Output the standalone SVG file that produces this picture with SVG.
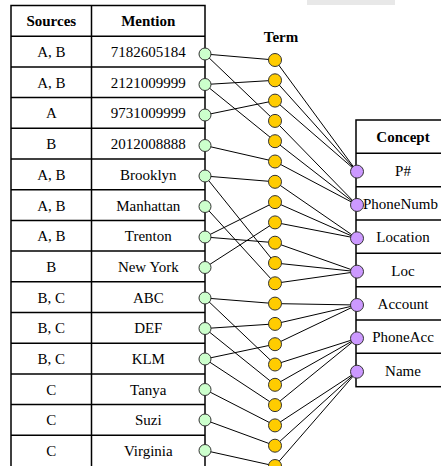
<svg xmlns="http://www.w3.org/2000/svg" width="441" height="466" viewBox="0 0 441 466">
  <style>
    .grid { fill: none; stroke: #000; stroke-width: 1.5; }
    .rule { stroke: #000; stroke-width: 1.5; }
    .txt { font-family: "Liberation Serif", "Times New Roman", serif; font-size: 15px; fill: #000; text-anchor: middle; }
    .hdr { font-weight: bold; }
    .edge { stroke: #000; stroke-width: 1; fill: none; }
    .mention { fill: #ccffcc; stroke: #333; stroke-width: 1; }
    .term { fill: #ffcc00; stroke: #333; stroke-width: 1; }
    .concept { fill: #cc99ff; stroke: #333; stroke-width: 1; }
  </style>

  <!-- light band at the top edge -->
  <rect x="307" y="0" width="88" height="5" fill="#e8e8e8"/>

  <!-- mention table -->
  <g id="mention-table">
    <rect class="grid" x="11" y="5.5" width="194" height="465"/>
    <line class="rule" x1="91.5" y1="5.5" x2="91.5" y2="470"/>
    <line class="rule" x1="11" y1="36.2" x2="205" y2="36.2"/>
    <line class="rule" x1="11" y1="66.9" x2="205" y2="66.9"/>
    <line class="rule" x1="11" y1="97.6" x2="205" y2="97.6"/>
    <line class="rule" x1="11" y1="128.3" x2="205" y2="128.3"/>
    <line class="rule" x1="11" y1="159" x2="205" y2="159"/>
    <line class="rule" x1="11" y1="189.7" x2="205" y2="189.7"/>
    <line class="rule" x1="11" y1="220.4" x2="205" y2="220.4"/>
    <line class="rule" x1="11" y1="251.1" x2="205" y2="251.1"/>
    <line class="rule" x1="11" y1="281.8" x2="205" y2="281.8"/>
    <line class="rule" x1="11" y1="312.5" x2="205" y2="312.5"/>
    <line class="rule" x1="11" y1="343.2" x2="205" y2="343.2"/>
    <line class="rule" x1="11" y1="373.9" x2="205" y2="373.9"/>
    <line class="rule" x1="11" y1="404.6" x2="205" y2="404.6"/>
    <line class="rule" x1="11" y1="435.3" x2="205" y2="435.3"/>
    <text class="txt hdr" x="51.3" y="26">Sources</text>
    <text class="txt hdr" x="148.3" y="26">Mention</text>
    <text class="txt" x="51.3" y="57">A, B</text>
    <text class="txt" x="51.3" y="87.7">A, B</text>
    <text class="txt" x="51.3" y="118.4">A</text>
    <text class="txt" x="51.3" y="149.1">B</text>
    <text class="txt" x="51.3" y="179.8">A, B</text>
    <text class="txt" x="51.3" y="210.5">A, B</text>
    <text class="txt" x="51.3" y="241.2">A, B</text>
    <text class="txt" x="51.3" y="271.9">B</text>
    <text class="txt" x="51.3" y="302.6">B, C</text>
    <text class="txt" x="51.3" y="333.3">B, C</text>
    <text class="txt" x="51.3" y="364">B, C</text>
    <text class="txt" x="51.3" y="394.7">C</text>
    <text class="txt" x="51.3" y="425.4">C</text>
    <text class="txt" x="51.3" y="456.1">C</text>
    <text class="txt" x="148.3" y="57">7182605184</text>
    <text class="txt" x="148.3" y="87.7">2121009999</text>
    <text class="txt" x="148.3" y="118.4">9731009999</text>
    <text class="txt" x="148.3" y="149.1">2012008888</text>
    <text class="txt" x="148.3" y="179.8">Brooklyn</text>
    <text class="txt" x="148.3" y="210.5">Manhattan</text>
    <text class="txt" x="148.3" y="241.2">Trenton</text>
    <text class="txt" x="148.3" y="271.9">New York</text>
    <text class="txt" x="148.3" y="302.6">ABC</text>
    <text class="txt" x="148.3" y="333.3">DEF</text>
    <text class="txt" x="148.3" y="364">KLM</text>
    <text class="txt" x="148.3" y="394.7">Tanya</text>
    <text class="txt" x="148.3" y="425.4">Suzi</text>
    <text class="txt" x="148.3" y="456.1">Virginia</text>
  </g>

  <!-- concept table -->
  <g id="concept-table">
    <rect class="grid" x="356" y="120" width="100" height="266.7"/>
    <line class="rule" x1="356" y1="153.3" x2="441" y2="153.3"/>
    <line class="rule" x1="356" y1="186.7" x2="441" y2="186.7"/>
    <line class="rule" x1="356" y1="220" x2="441" y2="220"/>
    <line class="rule" x1="356" y1="253.3" x2="441" y2="253.3"/>
    <line class="rule" x1="356" y1="286.7" x2="441" y2="286.7"/>
    <line class="rule" x1="356" y1="320" x2="441" y2="320"/>
    <line class="rule" x1="356" y1="353.3" x2="441" y2="353.3"/>
    <text class="txt hdr" x="403" y="142">Concept</text>
    <text class="txt" x="403" y="175.5">P#</text>
    <text class="txt" x="363" y="208.8" style="text-anchor:start">PhoneNumb</text>
    <text class="txt" x="403" y="242.2">Location</text>
    <text class="txt" x="403" y="275.5">Loc</text>
    <text class="txt" x="403" y="308.8">Account</text>
    <text class="txt" x="403" y="342.2">PhoneAcc</text>
    <text class="txt" x="403" y="375.5">Name</text>
  </g>

  <text id="term-title" class="txt hdr" x="281" y="42">Term</text>

  <!-- connectors: mention to term, term to concept -->
  <g id="connectors" class="edge">
    <line x1="205" y1="54" x2="275" y2="60"/>
    <line x1="205" y1="54" x2="275" y2="120.9"/>
    <line x1="205" y1="84.5" x2="275" y2="80.3"/>
    <line x1="205" y1="84.5" x2="275" y2="141.2"/>
    <line x1="205" y1="115" x2="275" y2="100.6"/>
    <line x1="205" y1="145.5" x2="275" y2="161.5"/>
    <line x1="205" y1="176" x2="275" y2="181.8"/>
    <line x1="205" y1="176" x2="275" y2="263"/>
    <line x1="205" y1="206.5" x2="275" y2="283.3"/>
    <line x1="205" y1="237" x2="275" y2="202.1"/>
    <line x1="205" y1="237" x2="275" y2="242.7"/>
    <line x1="205" y1="267.5" x2="275" y2="222.4"/>
    <line x1="205" y1="298" x2="275" y2="303.6"/>
    <line x1="205" y1="298" x2="275" y2="364.5"/>
    <line x1="205" y1="328.5" x2="275" y2="323.9"/>
    <line x1="205" y1="328.5" x2="275" y2="384.8"/>
    <line x1="205" y1="359" x2="275" y2="344.2"/>
    <line x1="205" y1="359" x2="275" y2="405.1"/>
    <line x1="205" y1="389.5" x2="275" y2="425.4"/>
    <line x1="205" y1="420" x2="275" y2="445.7"/>
    <line x1="205" y1="450.5" x2="275" y2="466"/>

    <line x1="275" y1="60" x2="357" y2="171.6"/>
    <line x1="275" y1="80.3" x2="357" y2="171.6"/>
    <line x1="275" y1="100.6" x2="357" y2="171.6"/>
    <line x1="275" y1="120.9" x2="357" y2="204.95"/>
    <line x1="275" y1="141.2" x2="357" y2="204.95"/>
    <line x1="275" y1="161.5" x2="357" y2="204.95"/>
    <line x1="275" y1="181.8" x2="357" y2="238.3"/>
    <line x1="275" y1="202.1" x2="357" y2="238.3"/>
    <line x1="275" y1="222.4" x2="357" y2="238.3"/>
    <line x1="275" y1="242.7" x2="357" y2="271.65"/>
    <line x1="275" y1="263" x2="357" y2="271.65"/>
    <line x1="275" y1="283.3" x2="357" y2="271.65"/>
    <line x1="275" y1="303.6" x2="357" y2="305"/>
    <line x1="275" y1="323.9" x2="357" y2="305"/>
    <line x1="275" y1="344.2" x2="357" y2="305"/>
    <line x1="275" y1="364.5" x2="357" y2="338.35"/>
    <line x1="275" y1="384.8" x2="357" y2="338.35"/>
    <line x1="275" y1="405.1" x2="357" y2="338.35"/>
    <line x1="275" y1="425.4" x2="357" y2="371.7"/>
    <line x1="275" y1="445.7" x2="357" y2="371.7"/>
    <line x1="275" y1="466" x2="357" y2="371.7"/>
  </g>

  <!-- mention nodes -->
  <g id="mentions">
    <g id="m1"><circle class="mention" cx="205" cy="54" r="6"/></g>
    <g id="m2"><circle class="mention" cx="205" cy="84.5" r="6"/></g>
    <g id="m3"><circle class="mention" cx="205" cy="115" r="6"/></g>
    <g id="m4"><circle class="mention" cx="205" cy="145.5" r="6"/></g>
    <g id="m5"><circle class="mention" cx="205" cy="176" r="6"/></g>
    <g id="m6"><circle class="mention" cx="205" cy="206.5" r="6"/></g>
    <g id="m7"><circle class="mention" cx="205" cy="237" r="6"/></g>
    <g id="m8"><circle class="mention" cx="205" cy="267.5" r="6"/></g>
    <g id="m9"><circle class="mention" cx="205" cy="298" r="6"/></g>
    <g id="m10"><circle class="mention" cx="205" cy="328.5" r="6"/></g>
    <g id="m11"><circle class="mention" cx="205" cy="359" r="6"/></g>
    <g id="m12"><circle class="mention" cx="205" cy="389.5" r="6"/></g>
    <g id="m13"><circle class="mention" cx="205" cy="420" r="6"/></g>
    <g id="m14"><circle class="mention" cx="205" cy="450.5" r="6"/></g>
  </g>

  <!-- term nodes -->
  <g id="terms">
    <g id="t0"><circle class="term" cx="275" cy="60" r="6.5"/></g>
    <g id="t1"><circle class="term" cx="275" cy="80.3" r="6.5"/></g>
    <g id="t2"><circle class="term" cx="275" cy="100.6" r="6.5"/></g>
    <g id="t3"><circle class="term" cx="275" cy="120.9" r="6.5"/></g>
    <g id="t4"><circle class="term" cx="275" cy="141.2" r="6.5"/></g>
    <g id="t5"><circle class="term" cx="275" cy="161.5" r="6.5"/></g>
    <g id="t6"><circle class="term" cx="275" cy="181.8" r="6.5"/></g>
    <g id="t7"><circle class="term" cx="275" cy="202.1" r="6.5"/></g>
    <g id="t8"><circle class="term" cx="275" cy="222.4" r="6.5"/></g>
    <g id="t9"><circle class="term" cx="275" cy="242.7" r="6.5"/></g>
    <g id="t10"><circle class="term" cx="275" cy="263" r="6.5"/></g>
    <g id="t11"><circle class="term" cx="275" cy="283.3" r="6.5"/></g>
    <g id="t12"><circle class="term" cx="275" cy="303.6" r="6.5"/></g>
    <g id="t13"><circle class="term" cx="275" cy="323.9" r="6.5"/></g>
    <g id="t14"><circle class="term" cx="275" cy="344.2" r="6.5"/></g>
    <g id="t15"><circle class="term" cx="275" cy="364.5" r="6.5"/></g>
    <g id="t16"><circle class="term" cx="275" cy="384.8" r="6.5"/></g>
    <g id="t17"><circle class="term" cx="275" cy="405.1" r="6.5"/></g>
    <g id="t18"><circle class="term" cx="275" cy="425.4" r="6.5"/></g>
    <g id="t19"><circle class="term" cx="275" cy="445.7" r="6.5"/></g>
    <g id="t20"><circle class="term" cx="275" cy="466" r="6.5"/></g>
  </g>

  <!-- concept nodes -->
  <g id="concepts">
    <g id="c-pnum"><circle class="concept" cx="357" cy="171.6" r="6.5"/></g>
    <g id="c-phonenumber"><circle class="concept" cx="357" cy="204.95" r="6.5"/></g>
    <g id="c-location"><circle class="concept" cx="357" cy="238.3" r="6.5"/></g>
    <g id="c-loc"><circle class="concept" cx="357" cy="271.65" r="6.5"/></g>
    <g id="c-account"><circle class="concept" cx="357" cy="305" r="6.5"/></g>
    <g id="c-phoneacc"><circle class="concept" cx="357" cy="338.35" r="6.5"/></g>
    <g id="c-name"><circle class="concept" cx="357" cy="371.7" r="6.5"/></g>
  </g>
</svg>
